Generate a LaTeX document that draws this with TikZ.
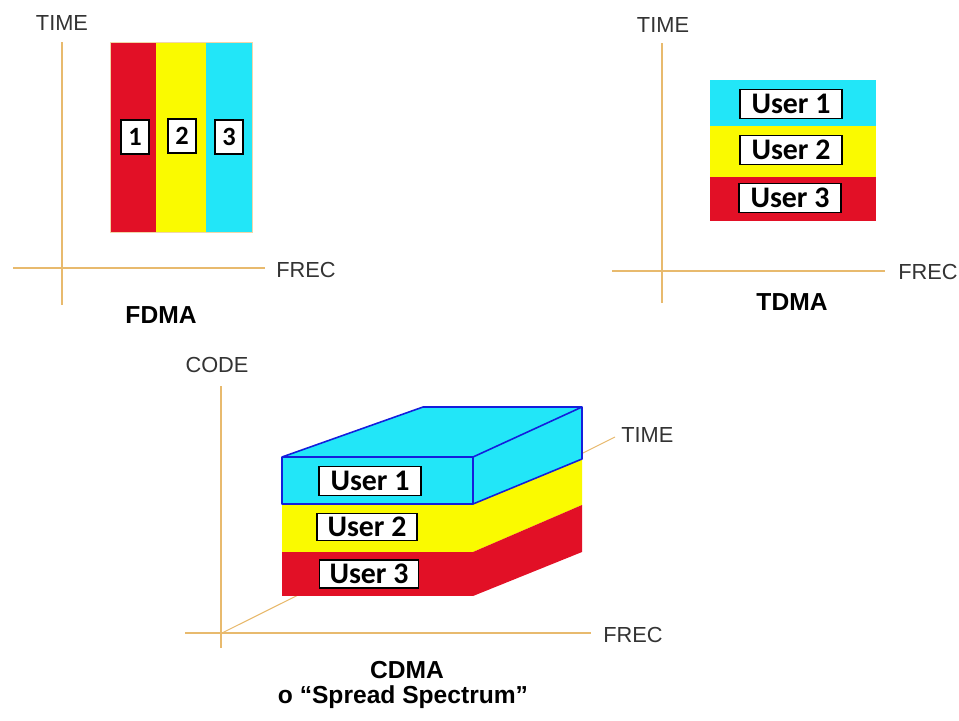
\documentclass[tikz,border=0pt]{standalone}
\usepackage{fontspec}
\setmainfont{Liberation Sans}
\newfontfamily\userfont{Carlito}
\definecolor{bandred}{RGB}{226,16,38}
\definecolor{bandyellow}{RGB}{250,250,0}
\definecolor{bandcyan}{RGB}{34,230,248}
\definecolor{axisorange}{RGB}{232,186,110}
\definecolor{edgeblue}{RGB}{20,30,220}

\begin{document}
\begin{tikzpicture}[x=0.02cm, y=-0.02cm,
        axis/.style={draw=axisorange, line width=0.6pt},
        axislabel/.style={font=\fontsize{12.4}{14}\selectfont, text=black!80, inner sep=0pt},
        title/.style={font=\fontsize{14}{16}\selectfont\bfseries, inner sep=0pt, anchor=base},
        userbox/.style={draw=black, fill=white, line width=0.9pt, inner sep=0pt,
            minimum width=2.04cm, minimum height=0.58cm,
            font=\userfont\fontsize{17}{18}\selectfont\bfseries},
        numbox/.style={draw=black, fill=white, line width=0.9pt, inner sep=0pt,
            minimum width=0.56cm, minimum height=0.68cm,
            font=\userfont\fontsize{15}{16}\selectfont\bfseries},
        edge/.style={draw=edgeblue, line width=0.9pt, line join=round}]
                \useasboundingbox (0,0) rectangle (959,720);
                \coordinate (fO) at (62,268);
                \coordinate (fT) at (62,42);
                \coordinate (fB) at (62,305);
                \coordinate (fL) at (13,268);
                \coordinate (fF) at (265,268);
                \draw[axis] (fB) -- (fT);
                \draw[axis] (fL) -- (fF);
                \node[axislabel] (ftime) at (62,23) {TIME};
                \node[axislabel, anchor=west] (ffrec) at (276,270) {FREC};
                \fill[bandred] (110,42) rectangle (156,232);
                \fill[bandyellow] (156,42) rectangle (206,232);
                \fill[bandcyan] (206,42) rectangle (252,232);
                \draw[axisorange!60, line width=0.4pt] (110,42) rectangle (252,232);
                \node[numbox] (f1) at (135,137) {1};
                \node[numbox] (f2) at (182,136) {2};
                \node[numbox] (f3) at (229,137) {3};
                \node[title] (fdma) at (161,323) {FDMA};
                \coordinate (tT) at (662,43);
                \coordinate (tB) at (662,303);
                \coordinate (tL) at (612,271);
                \coordinate (tF) at (885,271);
                \draw[axis] (tB) -- (tT);
                \draw[axis] (tL) -- (tF);
                \node[axislabel] (ttime) at (663,25) {TIME};
                \node[axislabel, anchor=west] (tfrec) at (898,272) {FREC};
                \fill[bandcyan] (710,80) rectangle (876,126);
                \fill[bandyellow] (710,126) rectangle (876,177);
                \fill[bandred] (710,177) rectangle (876,221);
                \node[userbox] (tu1) at (791,104) {User 1};
                \node[userbox] (tu2) at (791,150) {User 2};
                \node[userbox] (tu3) at (790,198) {User 3};
                \node[title] (tdma) at (792,310) {TDMA};
                \coordinate (cO) at (222,633);
                \coordinate (cT) at (221,386);
                \coordinate (cB) at (221,648);
                \coordinate (cL) at (185,633);
                \coordinate (cF) at (591,633);
                \coordinate (cD) at (615,437);
                \draw[axis] (cB) -- (cT);
                \draw[axis] (cL) -- (cF);
                \draw[axis] (cO) -- (cD);
                \node[axislabel] (ccode) at (217,365) {CODE};
                \node[axislabel, anchor=west] (ctime) at (621,435) {TIME};
                \node[axislabel, anchor=west] (cfrec) at (603,635) {FREC};
                \fill[bandcyan] (282,457) rectangle (473,504);
                \fill[bandyellow] (282,504) rectangle (473,552);
                \fill[bandred] (282,552) rectangle (473,596);
                \fill[bandcyan] (282,457) -- (423,407) -- (582,407) -- (473,457) -- cycle;
                \fill[bandcyan] (473,457) -- (582,407) -- (582,459) -- (473,504) -- cycle;
                \fill[bandyellow] (473,504) -- (582,459) -- (582,505) -- (473,552) -- cycle;
                \fill[bandred] (473,552) -- (582,505) -- (582,552) -- (473,596) -- cycle;
                \draw[edge] (282,504) -- (282,457) -- (423,407) -- (582,407) -- (582,459) -- (473,504) -- cycle;
                \draw[edge] (282,457) -- (473,457) -- (582,407);
                \draw[edge] (473,457) -- (473,504);
                \node[userbox] (cu1) at (370,481) {User 1};
                \node[userbox, minimum width=2.0cm, minimum height=0.54cm] (cu2) at (367,527) {User 2};
                \node[userbox, minimum width=1.98cm, minimum height=0.56cm] (cu3) at (369,574) {User 3};
                \node[title] (cdma) at (407,678) {CDMA};
                \node[title] (spread) at (403,703) {o “Spread Spectrum”};
            \end{tikzpicture}
\end{document}
